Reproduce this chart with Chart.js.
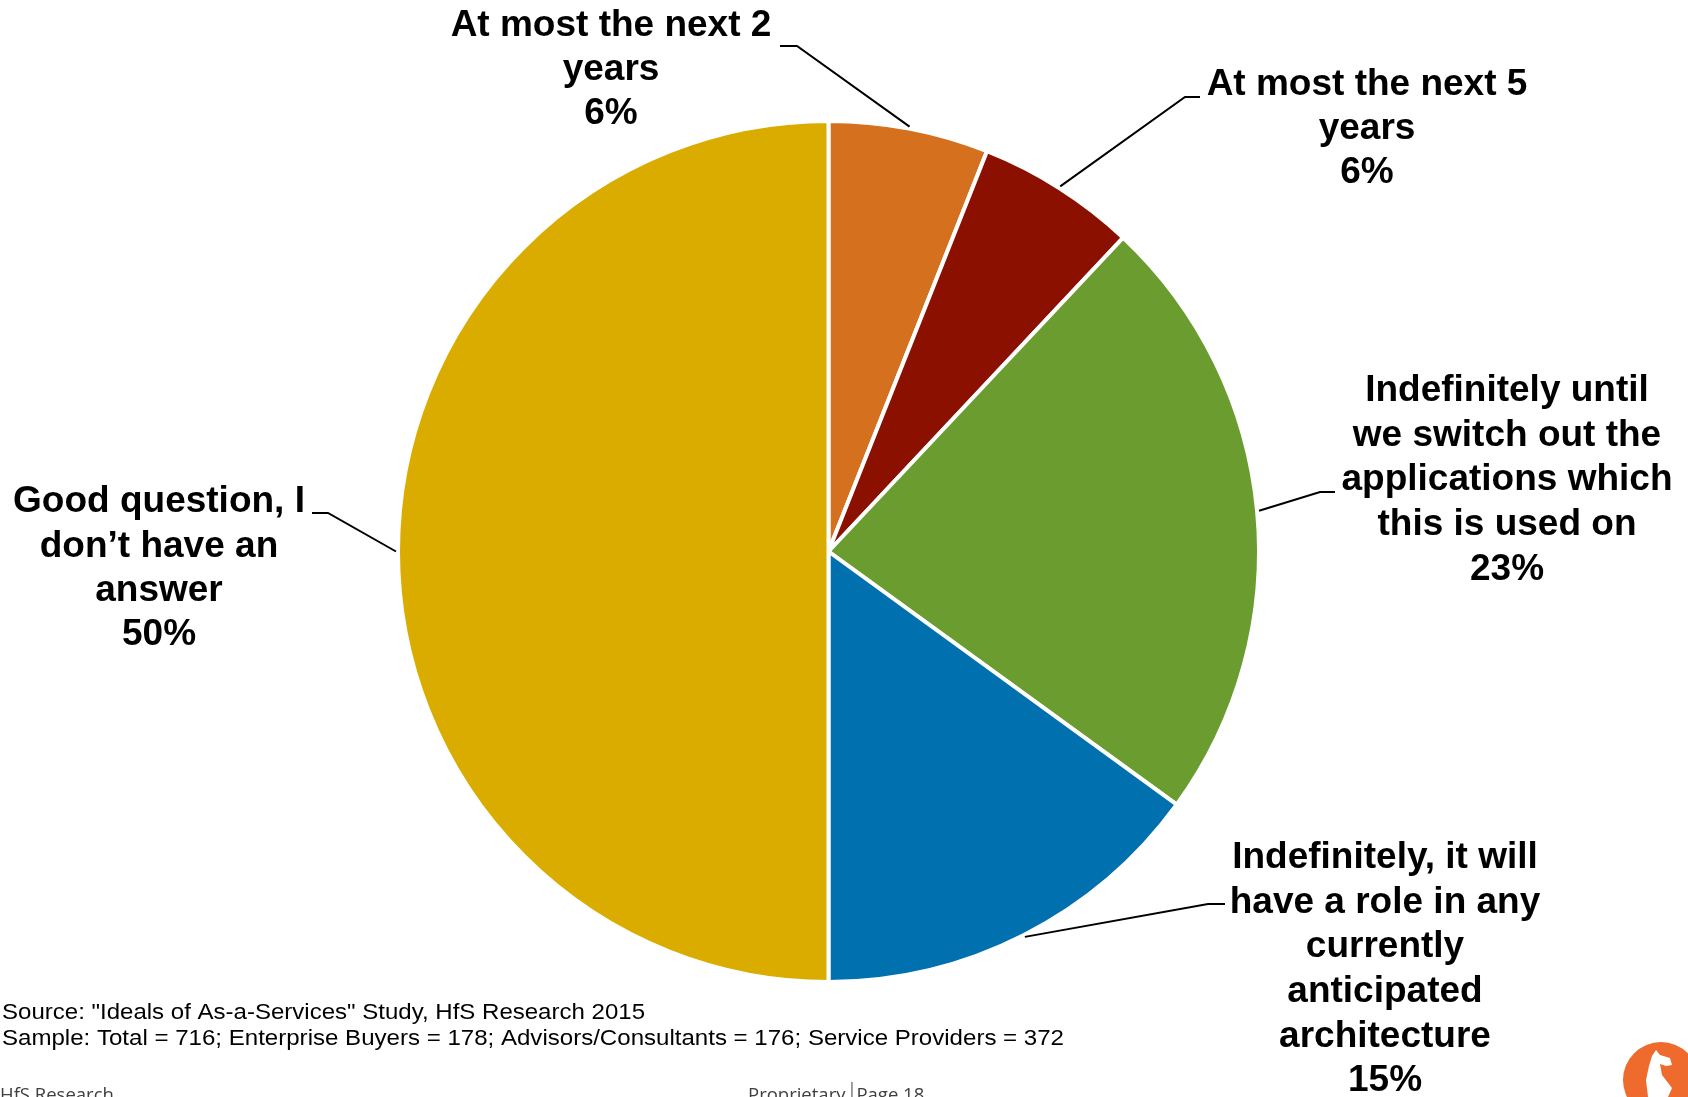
<!DOCTYPE html>
<html>
<head>
<meta charset="utf-8">
<script src="https://cdn.jsdelivr.net/npm/chart.js@4/dist/chart.umd.min.js"></script>
<style>
  html, body { margin: 0; padding: 0; background: #ffffff; overflow: hidden; }
  #wrap { width: 1688px; height: 1097px; position: relative; }
  canvas { display: block; }
</style>
</head>
<body>
<div id="wrap"><canvas id="c" width="1688" height="1097" style="width:1688px;height:1097px"></canvas></div>
<script>
// ---- Data ----
const categories = [
  'At most the next 2 years',
  'At most the next 5 years',
  'Indefinitely until we switch out the applications which this is used on',
  'Indefinitely, it will have a role in any currently anticipated architecture',
  'Good question, I don\u2019t have an answer'
];
const values = [6, 6, 23, 15, 50];
// Line-broken label text as shown in the chart
const labelLines = [
  ['At most the next 2', 'years'],
  ['At most the next 5', 'years'],
  ['Indefinitely until', 'we switch out the', 'applications which', 'this is used on'],
  ['Indefinitely, it will', 'have a role in any', 'currently', 'anticipated', 'architecture'],
  ['Good question, I', 'don\u2019t have an', 'answer']
];
const sourceLines = [
  'Source: "Ideals of As-a-Services" Study, HfS Research 2015',
  'Sample: Total = 716; Enterprise Buyers = 178; Advisors/Consultants = 176; Service Providers = 372'
];
const footerLeft = 'HfS Research';
const footerCenter = ['Proprietary', 'Page 18'];

// ---- Styles / layout (kept separate from data) ----
const colors = ['#D5701E', '#8B1000', '#6A9C2F', '#0070AF', '#DAAC00'];
const labelLayout = [
  { x: 611,  y: 26,  lh: 43.8, elbow: [797, 46],  end: [780, 46] },
  { x: 1367, y: 85,  lh: 43.8, elbow: [1185, 97], end: [1200, 97] },
  { x: 1507, y: 391, lh: 44.6, elbow: [1320, 492], end: [1335, 492] },
  { x: 1385, y: 858, lh: 44.6, elbow: [1208, 904], end: [1225, 904] },
  { x: 159,  y: 502, lh: 44.3, elbow: [328, 513], end: [312, 513] }
];
const LABEL_FONT = 'bold 37px "Liberation Sans", Arial, sans-serif';

const labelsPlugin = {
  id: 'pieLabels',
  afterDatasetsDraw(chart) {
    const ctx = chart.ctx;
    const meta = chart.getDatasetMeta(0);
    const ds = chart.data.datasets[0];
    ctx.save();
    meta.data.forEach((arc, i) => {
      const p = arc.getProps(['x', 'y', 'startAngle', 'endAngle', 'outerRadius'], true);
      const a = (p.startAngle + p.endAngle) / 2;
      const px = p.x + Math.cos(a) * (p.outerRadius + 2);
      const py = p.y + Math.sin(a) * (p.outerRadius + 2);
      const L = labelLayout[i];
      ctx.beginPath();
      ctx.strokeStyle = '#000000';
      ctx.lineWidth = 2;
      ctx.moveTo(px, py);
      ctx.lineTo(L.elbow[0], L.elbow[1]);
      ctx.lineTo(L.end[0], L.end[1]);
      ctx.stroke();

      const lines = labelLines[i].concat([ds.data[i] + '%']);
      ctx.fillStyle = '#000000';
      ctx.font = LABEL_FONT;
      ctx.textAlign = 'center';
      ctx.textBaseline = 'middle';
      lines.forEach((t, k) => ctx.fillText(t, L.x, L.y + k * L.lh));
    });
    ctx.restore();
  },
  afterDraw(chart) {
    const ctx = chart.ctx;
    ctx.save();
    // Source notes
    ctx.fillStyle = '#000000';
    ctx.font = '22px "Liberation Sans", Arial, sans-serif';
    ctx.textAlign = 'left';
    ctx.textBaseline = 'middle';
    const targets = [643, 1062];
    sourceLines.forEach((t, k) => {
      const w = ctx.measureText(t).width;
      const sx = targets[k] / w;
      ctx.save();
      ctx.translate(2, 1013 + k * 26);
      ctx.scale(sx, 1);
      ctx.fillText(t, 0, 0);
      ctx.restore();
    });
    // Footer
    ctx.fillStyle = '#404040';
    ctx.font = '18.5px "Open Sans", "Liberation Sans", sans-serif';
    ctx.textBaseline = 'alphabetic';
    ctx.fillText(footerLeft, 0, 1101);
    ctx.fillText(footerCenter[0], 748, 1101);
    const w0 = ctx.measureText(footerCenter[0]).width;
    ctx.fillRect(748 + w0 + 6, 1082, 1, 18);
    ctx.fillText(footerCenter[1], 748 + w0 + 11, 1101);
    // Logo
    ctx.fillStyle = '#EE6A2D';
    ctx.beginPath();
    ctx.arc(1661, 1080, 38, 0, Math.PI * 2);
    ctx.fill();
    ctx.fillStyle = '#ffffff';
    ctx.beginPath();
    ctx.moveTo(1652, 1056);
    ctx.lineTo(1656, 1050);
    ctx.lineTo(1660, 1055);
    ctx.lineTo(1670, 1058);
    ctx.lineTo(1672, 1065);
    ctx.lineTo(1666, 1066);
    ctx.lineTo(1660, 1064);
    ctx.lineTo(1662, 1075);
    ctx.lineTo(1672, 1088);
    ctx.lineTo(1668, 1097);
    ctx.lineTo(1648, 1097);
    ctx.lineTo(1646, 1080);
    ctx.lineTo(1649, 1066);
    ctx.closePath();
    ctx.fill();
    ctx.restore();
  }
};

new Chart(document.getElementById('c'), {
  type: 'pie',
  data: {
    labels: categories,
    datasets: [{
      data: values,
      backgroundColor: colors,
      borderColor: '#ffffff',
      borderWidth: 4,
      hoverOffset: 0
    }]
  },
  options: {
    responsive: false,
    animation: false,
    layout: { padding: { top: 119, bottom: 113, left: 396, right: 427 } },
    plugins: {
      legend: { display: false },
      tooltip: { enabled: false }
    }
  },
  plugins: [labelsPlugin]
});
</script>
</body>
</html>
